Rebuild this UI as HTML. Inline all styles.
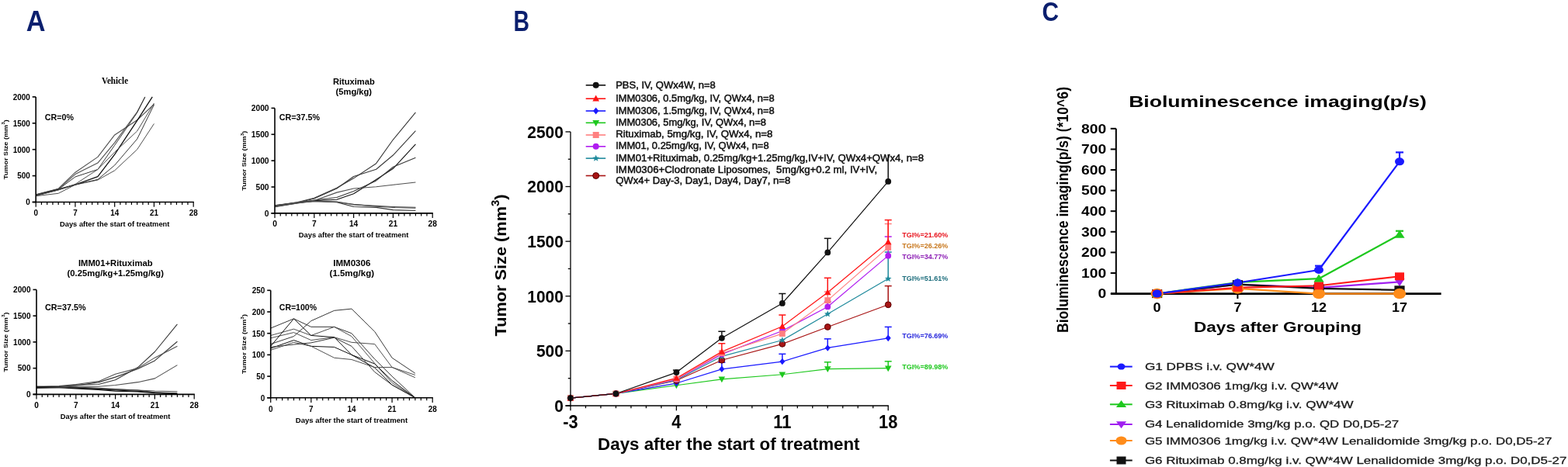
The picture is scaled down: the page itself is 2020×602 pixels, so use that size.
<!DOCTYPE html>
<html><head><meta charset="utf-8"><title>Figure</title>
<style>html,body{margin:0;padding:0;background:#fff;}svg{display:block;filter:blur(0.35px);}</style>
</head><body>
<svg width="2020" height="602" viewBox="0 0 2020 602">
<rect width="2020" height="602" fill="#fff"/>
<text x="33.8" y="40" font-size="36.8" font-weight="bold" text-anchor="start" fill="#0b1f6e" font-family="'Liberation Sans', Arial, sans-serif" textLength="24.8" lengthAdjust="spacingAndGlyphs">A</text>
<text x="661.5" y="40" font-size="36.8" font-weight="bold" text-anchor="start" fill="#0b1f6e" font-family="'Liberation Sans', Arial, sans-serif" textLength="20.5" lengthAdjust="spacingAndGlyphs">B</text>
<text x="1342.6" y="27" font-size="35.5" font-weight="bold" text-anchor="start" fill="#0b1f6e" font-family="'Liberation Sans', Arial, sans-serif" textLength="21.5" lengthAdjust="spacingAndGlyphs">C</text>
<polyline points="46.2,250.67 75.2,243.21 96.95,222.19 125.95,202.4 147.7,173.92 176.7,154.73 198.45,134.39" fill="none" stroke="#505050" stroke-width="1.1" stroke-linejoin="round"/>
<polyline points="46.2,251.35 75.2,243.89 96.95,224.57 125.95,210.06 147.7,183.82 176.7,144.22 186.85,124.9" fill="none" stroke="#505050" stroke-width="1.1" stroke-linejoin="round"/>
<polyline points="46.2,251.69 75.2,244.23 96.95,227.96 125.95,218.46 147.7,187.28 176.7,145.24 186.85,124.9" fill="none" stroke="#383838" stroke-width="1" stroke-linejoin="round"/>
<polyline points="46.2,252.03 75.2,244.57 96.95,238.13 125.95,227.62 147.7,199.14 176.7,155.41 196.27,124.9" fill="none" stroke="#111" stroke-width="1.3" stroke-linejoin="round"/>
<polyline points="46.2,252.36 75.2,244.91 96.95,237.45 125.95,218.46 147.7,196.09 176.7,168.97 198.45,133.04" fill="none" stroke="#505050" stroke-width="1" stroke-linejoin="round"/>
<polyline points="46.2,252.7 75.2,249.31 96.95,238.13 125.95,232.02 147.7,219.82 176.7,192.7 198.45,159.48" fill="none" stroke="#505050" stroke-width="1" stroke-linejoin="round"/>
<polyline points="46.2,251.01 75.2,243.55 96.95,238.13 125.95,231.35 147.7,213.04 176.7,179.14 198.45,135.07" fill="none" stroke="#383838" stroke-width="1" stroke-linejoin="round"/>
<line x1="46.2" y1="124.9" x2="46.2" y2="261.15" stroke="#000" stroke-width="1.6"/>
<line x1="41.7" y1="260.5" x2="249.85" y2="260.5" stroke="#000" stroke-width="1.6"/>
<line x1="41.7" y1="260.5" x2="46.2" y2="260.5" stroke="#000" stroke-width="1.6"/>
<text x="38.7" y="264.3" font-size="10.4" font-weight="bold" text-anchor="end" fill="#000" font-family="'Liberation Sans', Arial, sans-serif" textLength="5.5" lengthAdjust="spacingAndGlyphs">0</text>
<line x1="41.7" y1="226.6" x2="46.2" y2="226.6" stroke="#000" stroke-width="1.6"/>
<text x="38.7" y="230.4" font-size="10.4" font-weight="bold" text-anchor="end" fill="#000" font-family="'Liberation Sans', Arial, sans-serif" textLength="16.5" lengthAdjust="spacingAndGlyphs">500</text>
<line x1="41.7" y1="192.7" x2="46.2" y2="192.7" stroke="#000" stroke-width="1.6"/>
<text x="38.7" y="196.5" font-size="10.4" font-weight="bold" text-anchor="end" fill="#000" font-family="'Liberation Sans', Arial, sans-serif" textLength="22" lengthAdjust="spacingAndGlyphs">1000</text>
<line x1="41.7" y1="158.8" x2="46.2" y2="158.8" stroke="#000" stroke-width="1.6"/>
<text x="38.7" y="162.6" font-size="10.4" font-weight="bold" text-anchor="end" fill="#000" font-family="'Liberation Sans', Arial, sans-serif" textLength="22" lengthAdjust="spacingAndGlyphs">1500</text>
<line x1="41.7" y1="124.9" x2="46.2" y2="124.9" stroke="#000" stroke-width="1.6"/>
<text x="38.7" y="128.7" font-size="10.4" font-weight="bold" text-anchor="end" fill="#000" font-family="'Liberation Sans', Arial, sans-serif" textLength="22" lengthAdjust="spacingAndGlyphs">2000</text>
<line x1="46.2" y1="260.5" x2="46.2" y2="266.7" stroke="#000" stroke-width="1.2"/>
<text x="46.2" y="277.8" font-size="10.4" font-weight="bold" text-anchor="middle" fill="#000" font-family="'Liberation Sans', Arial, sans-serif" textLength="5.5" lengthAdjust="spacingAndGlyphs">0</text>
<line x1="53.45" y1="260.5" x2="53.45" y2="264" stroke="#000" stroke-width="1.2"/>
<line x1="60.7" y1="260.5" x2="60.7" y2="264" stroke="#000" stroke-width="1.2"/>
<line x1="67.95" y1="260.5" x2="67.95" y2="264" stroke="#000" stroke-width="1.2"/>
<line x1="75.2" y1="260.5" x2="75.2" y2="264" stroke="#000" stroke-width="1.2"/>
<line x1="82.45" y1="260.5" x2="82.45" y2="264" stroke="#000" stroke-width="1.2"/>
<line x1="89.7" y1="260.5" x2="89.7" y2="264" stroke="#000" stroke-width="1.2"/>
<line x1="96.95" y1="260.5" x2="96.95" y2="266.7" stroke="#000" stroke-width="1.2"/>
<text x="96.95" y="277.8" font-size="10.4" font-weight="bold" text-anchor="middle" fill="#000" font-family="'Liberation Sans', Arial, sans-serif" textLength="5.5" lengthAdjust="spacingAndGlyphs">7</text>
<line x1="104.2" y1="260.5" x2="104.2" y2="264" stroke="#000" stroke-width="1.2"/>
<line x1="111.45" y1="260.5" x2="111.45" y2="264" stroke="#000" stroke-width="1.2"/>
<line x1="118.7" y1="260.5" x2="118.7" y2="264" stroke="#000" stroke-width="1.2"/>
<line x1="125.95" y1="260.5" x2="125.95" y2="264" stroke="#000" stroke-width="1.2"/>
<line x1="133.2" y1="260.5" x2="133.2" y2="264" stroke="#000" stroke-width="1.2"/>
<line x1="140.45" y1="260.5" x2="140.45" y2="264" stroke="#000" stroke-width="1.2"/>
<line x1="147.7" y1="260.5" x2="147.7" y2="266.7" stroke="#000" stroke-width="1.2"/>
<text x="147.7" y="277.8" font-size="10.4" font-weight="bold" text-anchor="middle" fill="#000" font-family="'Liberation Sans', Arial, sans-serif" textLength="11" lengthAdjust="spacingAndGlyphs">14</text>
<line x1="154.95" y1="260.5" x2="154.95" y2="264" stroke="#000" stroke-width="1.2"/>
<line x1="162.2" y1="260.5" x2="162.2" y2="264" stroke="#000" stroke-width="1.2"/>
<line x1="169.45" y1="260.5" x2="169.45" y2="264" stroke="#000" stroke-width="1.2"/>
<line x1="176.7" y1="260.5" x2="176.7" y2="264" stroke="#000" stroke-width="1.2"/>
<line x1="183.95" y1="260.5" x2="183.95" y2="264" stroke="#000" stroke-width="1.2"/>
<line x1="191.2" y1="260.5" x2="191.2" y2="264" stroke="#000" stroke-width="1.2"/>
<line x1="198.45" y1="260.5" x2="198.45" y2="266.7" stroke="#000" stroke-width="1.2"/>
<text x="198.45" y="277.8" font-size="10.4" font-weight="bold" text-anchor="middle" fill="#000" font-family="'Liberation Sans', Arial, sans-serif" textLength="11" lengthAdjust="spacingAndGlyphs">21</text>
<line x1="205.7" y1="260.5" x2="205.7" y2="264" stroke="#000" stroke-width="1.2"/>
<line x1="212.95" y1="260.5" x2="212.95" y2="264" stroke="#000" stroke-width="1.2"/>
<line x1="220.2" y1="260.5" x2="220.2" y2="264" stroke="#000" stroke-width="1.2"/>
<line x1="227.45" y1="260.5" x2="227.45" y2="264" stroke="#000" stroke-width="1.2"/>
<line x1="234.7" y1="260.5" x2="234.7" y2="264" stroke="#000" stroke-width="1.2"/>
<line x1="241.95" y1="260.5" x2="241.95" y2="264" stroke="#000" stroke-width="1.2"/>
<line x1="249.2" y1="260.5" x2="249.2" y2="266.7" stroke="#000" stroke-width="1.2"/>
<text x="249.2" y="277.8" font-size="10.4" font-weight="bold" text-anchor="middle" fill="#000" font-family="'Liberation Sans', Arial, sans-serif" textLength="11" lengthAdjust="spacingAndGlyphs">28</text>
<text x="147.7" y="292" font-size="9.4" font-weight="bold" text-anchor="middle" fill="#000" font-family="'Liberation Sans', Arial, sans-serif" textLength="141.5" lengthAdjust="spacingAndGlyphs">Days after the start of treatment</text>
<text transform="translate(9.5,192.7) rotate(-90)" font-size="7.9" font-weight="bold" text-anchor="middle" font-family="'Liberation Sans', Arial, sans-serif" textLength="77" lengthAdjust="spacingAndGlyphs">Tumor Size (mm<tspan dy="-3.5" font-size="5.5">3</tspan><tspan dy="3.5">)</tspan></text>
<text x="57.8" y="155" font-size="10.5" font-weight="bold" text-anchor="start" fill="#000" font-family="'Liberation Sans', Arial, sans-serif" textLength="37.2" lengthAdjust="spacingAndGlyphs">CR=0%</text>
<text x="148" y="108.3" font-size="12.5" font-weight="bold" text-anchor="middle" fill="#000" font-family="'Liberation Serif', 'Times New Roman', serif" textLength="34.2" lengthAdjust="spacingAndGlyphs">Vehicle</text>
<polyline points="354,264.74 383.03,260.67 404.8,255.25 433.83,242.24 455.6,229.85 484.63,210.67 506.4,180.05 535.42,144.82" fill="none" stroke="#383838" stroke-width="1.1" stroke-linejoin="round"/>
<polyline points="354,265.41 383.03,261.35 404.8,255.93 433.83,243.06 455.6,227.47 484.63,218.26 506.4,200.04 535.42,168.53" fill="none" stroke="#383838" stroke-width="1.1" stroke-linejoin="round"/>
<polyline points="354,266.09 383.03,261.35 404.8,258.64 433.83,257.28 455.6,249.83 484.63,231.54 506.4,217.31 535.42,185.81" fill="none" stroke="#111" stroke-width="1.1" stroke-linejoin="round"/>
<polyline points="354,266.77 383.03,262.03 404.8,257.96 433.83,254.57 455.6,246.44 484.63,232.89 506.4,215.28 535.42,203.29" fill="none" stroke="#383838" stroke-width="1.1" stroke-linejoin="round"/>
<polyline points="354,265.41 383.03,260.67 404.8,258.64 433.83,248.14 455.6,243.06 484.63,240.69 506.4,238.31 535.42,234.93" fill="none" stroke="#505050" stroke-width="1.1" stroke-linejoin="round"/>
<polyline points="354,264.74 383.03,261.35 404.8,259.32 433.83,260.6 455.6,266.43 484.63,267.38 506.4,270.63 535.42,271.51" fill="none" stroke="#383838" stroke-width="1.1" stroke-linejoin="round"/>
<polyline points="354,266.09 383.03,262.03 404.8,259.32 433.83,260 455.6,263.92 484.63,265.41 506.4,266.43 535.42,267.24" fill="none" stroke="#505050" stroke-width="1.1" stroke-linejoin="round"/>
<polyline points="354,265.41 383.03,261.35 404.8,259.66 433.83,260.33 455.6,263.38 484.63,266.09 506.4,267.45 535.42,268.12" fill="none" stroke="#505050" stroke-width="1.1" stroke-linejoin="round"/>
<line x1="354" y1="139.4" x2="354" y2="275.55" stroke="#000" stroke-width="1.6"/>
<line x1="349.5" y1="274.9" x2="557.85" y2="274.9" stroke="#000" stroke-width="1.6"/>
<line x1="349.5" y1="274.9" x2="354" y2="274.9" stroke="#000" stroke-width="1.6"/>
<text x="346.5" y="278.7" font-size="10.4" font-weight="bold" text-anchor="end" fill="#000" font-family="'Liberation Sans', Arial, sans-serif" textLength="5.67" lengthAdjust="spacingAndGlyphs">0</text>
<line x1="349.5" y1="241.02" x2="354" y2="241.02" stroke="#000" stroke-width="1.6"/>
<text x="346.5" y="244.82" font-size="10.4" font-weight="bold" text-anchor="end" fill="#000" font-family="'Liberation Sans', Arial, sans-serif" textLength="17.02" lengthAdjust="spacingAndGlyphs">500</text>
<line x1="349.5" y1="207.15" x2="354" y2="207.15" stroke="#000" stroke-width="1.6"/>
<text x="346.5" y="210.95" font-size="10.4" font-weight="bold" text-anchor="end" fill="#000" font-family="'Liberation Sans', Arial, sans-serif" textLength="22.7" lengthAdjust="spacingAndGlyphs">1000</text>
<line x1="349.5" y1="173.27" x2="354" y2="173.27" stroke="#000" stroke-width="1.6"/>
<text x="346.5" y="177.07" font-size="10.4" font-weight="bold" text-anchor="end" fill="#000" font-family="'Liberation Sans', Arial, sans-serif" textLength="22.7" lengthAdjust="spacingAndGlyphs">1500</text>
<line x1="349.5" y1="139.4" x2="354" y2="139.4" stroke="#000" stroke-width="1.6"/>
<text x="346.5" y="143.2" font-size="10.4" font-weight="bold" text-anchor="end" fill="#000" font-family="'Liberation Sans', Arial, sans-serif" textLength="22.7" lengthAdjust="spacingAndGlyphs">2000</text>
<line x1="354" y1="274.9" x2="354" y2="281.1" stroke="#000" stroke-width="1.2"/>
<text x="354" y="292.1" font-size="10.4" font-weight="bold" text-anchor="middle" fill="#000" font-family="'Liberation Sans', Arial, sans-serif" textLength="5.67" lengthAdjust="spacingAndGlyphs">0</text>
<line x1="361.26" y1="274.9" x2="361.26" y2="278.4" stroke="#000" stroke-width="1.2"/>
<line x1="368.51" y1="274.9" x2="368.51" y2="278.4" stroke="#000" stroke-width="1.2"/>
<line x1="375.77" y1="274.9" x2="375.77" y2="278.4" stroke="#000" stroke-width="1.2"/>
<line x1="383.03" y1="274.9" x2="383.03" y2="278.4" stroke="#000" stroke-width="1.2"/>
<line x1="390.28" y1="274.9" x2="390.28" y2="278.4" stroke="#000" stroke-width="1.2"/>
<line x1="397.54" y1="274.9" x2="397.54" y2="278.4" stroke="#000" stroke-width="1.2"/>
<line x1="404.8" y1="274.9" x2="404.8" y2="281.1" stroke="#000" stroke-width="1.2"/>
<text x="404.8" y="292.1" font-size="10.4" font-weight="bold" text-anchor="middle" fill="#000" font-family="'Liberation Sans', Arial, sans-serif" textLength="5.67" lengthAdjust="spacingAndGlyphs">7</text>
<line x1="412.06" y1="274.9" x2="412.06" y2="278.4" stroke="#000" stroke-width="1.2"/>
<line x1="419.31" y1="274.9" x2="419.31" y2="278.4" stroke="#000" stroke-width="1.2"/>
<line x1="426.57" y1="274.9" x2="426.57" y2="278.4" stroke="#000" stroke-width="1.2"/>
<line x1="433.83" y1="274.9" x2="433.83" y2="278.4" stroke="#000" stroke-width="1.2"/>
<line x1="441.08" y1="274.9" x2="441.08" y2="278.4" stroke="#000" stroke-width="1.2"/>
<line x1="448.34" y1="274.9" x2="448.34" y2="278.4" stroke="#000" stroke-width="1.2"/>
<line x1="455.6" y1="274.9" x2="455.6" y2="281.1" stroke="#000" stroke-width="1.2"/>
<text x="455.6" y="292.1" font-size="10.4" font-weight="bold" text-anchor="middle" fill="#000" font-family="'Liberation Sans', Arial, sans-serif" textLength="11.35" lengthAdjust="spacingAndGlyphs">14</text>
<line x1="462.86" y1="274.9" x2="462.86" y2="278.4" stroke="#000" stroke-width="1.2"/>
<line x1="470.11" y1="274.9" x2="470.11" y2="278.4" stroke="#000" stroke-width="1.2"/>
<line x1="477.37" y1="274.9" x2="477.37" y2="278.4" stroke="#000" stroke-width="1.2"/>
<line x1="484.63" y1="274.9" x2="484.63" y2="278.4" stroke="#000" stroke-width="1.2"/>
<line x1="491.88" y1="274.9" x2="491.88" y2="278.4" stroke="#000" stroke-width="1.2"/>
<line x1="499.14" y1="274.9" x2="499.14" y2="278.4" stroke="#000" stroke-width="1.2"/>
<line x1="506.4" y1="274.9" x2="506.4" y2="281.1" stroke="#000" stroke-width="1.2"/>
<text x="506.4" y="292.1" font-size="10.4" font-weight="bold" text-anchor="middle" fill="#000" font-family="'Liberation Sans', Arial, sans-serif" textLength="11.35" lengthAdjust="spacingAndGlyphs">21</text>
<line x1="513.65" y1="274.9" x2="513.65" y2="278.4" stroke="#000" stroke-width="1.2"/>
<line x1="520.91" y1="274.9" x2="520.91" y2="278.4" stroke="#000" stroke-width="1.2"/>
<line x1="528.17" y1="274.9" x2="528.17" y2="278.4" stroke="#000" stroke-width="1.2"/>
<line x1="535.42" y1="274.9" x2="535.42" y2="278.4" stroke="#000" stroke-width="1.2"/>
<line x1="542.68" y1="274.9" x2="542.68" y2="278.4" stroke="#000" stroke-width="1.2"/>
<line x1="549.94" y1="274.9" x2="549.94" y2="278.4" stroke="#000" stroke-width="1.2"/>
<line x1="557.2" y1="274.9" x2="557.2" y2="281.1" stroke="#000" stroke-width="1.2"/>
<text x="557.2" y="292.1" font-size="10.4" font-weight="bold" text-anchor="middle" fill="#000" font-family="'Liberation Sans', Arial, sans-serif" textLength="11.35" lengthAdjust="spacingAndGlyphs">28</text>
<text x="455.6" y="306.4" font-size="9.4" font-weight="bold" text-anchor="middle" fill="#000" font-family="'Liberation Sans', Arial, sans-serif" textLength="141.5" lengthAdjust="spacingAndGlyphs">Days after the start of treatment</text>
<text transform="translate(317,207.15) rotate(-90)" font-size="7.9" font-weight="bold" text-anchor="middle" font-family="'Liberation Sans', Arial, sans-serif" textLength="77" lengthAdjust="spacingAndGlyphs">Tumor Size (mm<tspan dy="-3.5" font-size="5.5">3</tspan><tspan dy="3.5">)</tspan></text>
<text x="359.8" y="154.8" font-size="10.5" font-weight="bold" text-anchor="start" fill="#000" font-family="'Liberation Sans', Arial, sans-serif" textLength="52.2" lengthAdjust="spacingAndGlyphs">CR=37.5%</text>
<text x="455.8" y="109.3" font-size="11" font-weight="bold" text-anchor="middle" fill="#000" font-family="'Liberation Sans', Arial, sans-serif" textLength="53.8" lengthAdjust="spacingAndGlyphs">Rituximab</text>
<text x="455.8" y="122.3" font-size="11" font-weight="bold" text-anchor="middle" fill="#000" font-family="'Liberation Sans', Arial, sans-serif" textLength="46.4" lengthAdjust="spacingAndGlyphs">(5mg/kg)</text>
<polyline points="47,499.62 76.03,498.27 97.8,496.25 126.83,495.57 148.6,489.77 177.63,473.57 199.4,453.52 228.42,417.95" fill="none" stroke="#383838" stroke-width="1.1" stroke-linejoin="round"/>
<polyline points="47,498.95 76.03,498.27 97.8,496.92 126.83,492.88 148.6,486.12 177.63,475.46 199.4,464.93 228.42,440.22" fill="none" stroke="#383838" stroke-width="1.1" stroke-linejoin="round"/>
<polyline points="47,498.27 76.03,497.6 97.8,495.57 126.83,491.66 148.6,482.21 177.63,474.65 199.4,461.15 228.42,446.3" fill="none" stroke="#505050" stroke-width="1.1" stroke-linejoin="round"/>
<polyline points="47,500.3 76.03,498.95 97.8,498.27 126.83,498.27 148.6,496.45 177.63,492.67 199.4,487.88 228.42,470.6" fill="none" stroke="#505050" stroke-width="1.1" stroke-linejoin="round"/>
<polyline points="47,498.95 76.03,498.95 97.8,499.62 126.83,500.97 148.6,501.99 177.63,503 199.4,504.01 228.42,504.69" fill="none" stroke="#505050" stroke-width="1.1" stroke-linejoin="round"/>
<polyline points="47,499.62 76.03,499.62 97.8,500.97 126.83,502.32 148.6,504.08 177.63,505.02 199.4,506.71 228.42,507.72" fill="none" stroke="#111" stroke-width="1.2" stroke-linejoin="round"/>
<polyline points="47,498.27 76.03,498.95 97.8,500.3 126.83,501.65 148.6,503 177.63,504.35 199.4,505.7 228.42,508.4" fill="none" stroke="#111" stroke-width="1.1" stroke-linejoin="round"/>
<polyline points="47,500.3 76.03,499.62 97.8,498.95 126.83,500.3 148.6,501.65 177.63,503 199.4,505.7 228.42,506.71" fill="none" stroke="#383838" stroke-width="1.1" stroke-linejoin="round"/>
<line x1="47" y1="373.4" x2="47" y2="509.05" stroke="#000" stroke-width="1.6"/>
<line x1="42.5" y1="508.4" x2="250.85" y2="508.4" stroke="#000" stroke-width="1.6"/>
<line x1="42.5" y1="508.4" x2="47" y2="508.4" stroke="#000" stroke-width="1.6"/>
<text x="39.5" y="512.2" font-size="10.4" font-weight="bold" text-anchor="end" fill="#000" font-family="'Liberation Sans', Arial, sans-serif" textLength="5.6" lengthAdjust="spacingAndGlyphs">0</text>
<line x1="42.5" y1="474.65" x2="47" y2="474.65" stroke="#000" stroke-width="1.6"/>
<text x="39.5" y="478.45" font-size="10.4" font-weight="bold" text-anchor="end" fill="#000" font-family="'Liberation Sans', Arial, sans-serif" textLength="16.8" lengthAdjust="spacingAndGlyphs">500</text>
<line x1="42.5" y1="440.9" x2="47" y2="440.9" stroke="#000" stroke-width="1.6"/>
<text x="39.5" y="444.7" font-size="10.4" font-weight="bold" text-anchor="end" fill="#000" font-family="'Liberation Sans', Arial, sans-serif" textLength="22.4" lengthAdjust="spacingAndGlyphs">1000</text>
<line x1="42.5" y1="407.15" x2="47" y2="407.15" stroke="#000" stroke-width="1.6"/>
<text x="39.5" y="410.95" font-size="10.4" font-weight="bold" text-anchor="end" fill="#000" font-family="'Liberation Sans', Arial, sans-serif" textLength="22.4" lengthAdjust="spacingAndGlyphs">1500</text>
<line x1="42.5" y1="373.4" x2="47" y2="373.4" stroke="#000" stroke-width="1.6"/>
<text x="39.5" y="377.2" font-size="10.4" font-weight="bold" text-anchor="end" fill="#000" font-family="'Liberation Sans', Arial, sans-serif" textLength="22.4" lengthAdjust="spacingAndGlyphs">2000</text>
<line x1="47" y1="508.4" x2="47" y2="514.6" stroke="#000" stroke-width="1.2"/>
<text x="47" y="525.6" font-size="10.4" font-weight="bold" text-anchor="middle" fill="#000" font-family="'Liberation Sans', Arial, sans-serif" textLength="5.6" lengthAdjust="spacingAndGlyphs">0</text>
<line x1="54.26" y1="508.4" x2="54.26" y2="511.9" stroke="#000" stroke-width="1.2"/>
<line x1="61.51" y1="508.4" x2="61.51" y2="511.9" stroke="#000" stroke-width="1.2"/>
<line x1="68.77" y1="508.4" x2="68.77" y2="511.9" stroke="#000" stroke-width="1.2"/>
<line x1="76.03" y1="508.4" x2="76.03" y2="511.9" stroke="#000" stroke-width="1.2"/>
<line x1="83.28" y1="508.4" x2="83.28" y2="511.9" stroke="#000" stroke-width="1.2"/>
<line x1="90.54" y1="508.4" x2="90.54" y2="511.9" stroke="#000" stroke-width="1.2"/>
<line x1="97.8" y1="508.4" x2="97.8" y2="514.6" stroke="#000" stroke-width="1.2"/>
<text x="97.8" y="525.6" font-size="10.4" font-weight="bold" text-anchor="middle" fill="#000" font-family="'Liberation Sans', Arial, sans-serif" textLength="5.6" lengthAdjust="spacingAndGlyphs">7</text>
<line x1="105.06" y1="508.4" x2="105.06" y2="511.9" stroke="#000" stroke-width="1.2"/>
<line x1="112.31" y1="508.4" x2="112.31" y2="511.9" stroke="#000" stroke-width="1.2"/>
<line x1="119.57" y1="508.4" x2="119.57" y2="511.9" stroke="#000" stroke-width="1.2"/>
<line x1="126.83" y1="508.4" x2="126.83" y2="511.9" stroke="#000" stroke-width="1.2"/>
<line x1="134.08" y1="508.4" x2="134.08" y2="511.9" stroke="#000" stroke-width="1.2"/>
<line x1="141.34" y1="508.4" x2="141.34" y2="511.9" stroke="#000" stroke-width="1.2"/>
<line x1="148.6" y1="508.4" x2="148.6" y2="514.6" stroke="#000" stroke-width="1.2"/>
<text x="148.6" y="525.6" font-size="10.4" font-weight="bold" text-anchor="middle" fill="#000" font-family="'Liberation Sans', Arial, sans-serif" textLength="11.2" lengthAdjust="spacingAndGlyphs">14</text>
<line x1="155.85" y1="508.4" x2="155.85" y2="511.9" stroke="#000" stroke-width="1.2"/>
<line x1="163.11" y1="508.4" x2="163.11" y2="511.9" stroke="#000" stroke-width="1.2"/>
<line x1="170.37" y1="508.4" x2="170.37" y2="511.9" stroke="#000" stroke-width="1.2"/>
<line x1="177.63" y1="508.4" x2="177.63" y2="511.9" stroke="#000" stroke-width="1.2"/>
<line x1="184.88" y1="508.4" x2="184.88" y2="511.9" stroke="#000" stroke-width="1.2"/>
<line x1="192.14" y1="508.4" x2="192.14" y2="511.9" stroke="#000" stroke-width="1.2"/>
<line x1="199.4" y1="508.4" x2="199.4" y2="514.6" stroke="#000" stroke-width="1.2"/>
<text x="199.4" y="525.6" font-size="10.4" font-weight="bold" text-anchor="middle" fill="#000" font-family="'Liberation Sans', Arial, sans-serif" textLength="11.2" lengthAdjust="spacingAndGlyphs">21</text>
<line x1="206.65" y1="508.4" x2="206.65" y2="511.9" stroke="#000" stroke-width="1.2"/>
<line x1="213.91" y1="508.4" x2="213.91" y2="511.9" stroke="#000" stroke-width="1.2"/>
<line x1="221.17" y1="508.4" x2="221.17" y2="511.9" stroke="#000" stroke-width="1.2"/>
<line x1="228.42" y1="508.4" x2="228.42" y2="511.9" stroke="#000" stroke-width="1.2"/>
<line x1="235.68" y1="508.4" x2="235.68" y2="511.9" stroke="#000" stroke-width="1.2"/>
<line x1="242.94" y1="508.4" x2="242.94" y2="511.9" stroke="#000" stroke-width="1.2"/>
<line x1="250.2" y1="508.4" x2="250.2" y2="514.6" stroke="#000" stroke-width="1.2"/>
<text x="250.2" y="525.6" font-size="10.4" font-weight="bold" text-anchor="middle" fill="#000" font-family="'Liberation Sans', Arial, sans-serif" textLength="11.2" lengthAdjust="spacingAndGlyphs">28</text>
<text x="148.6" y="539.9" font-size="9.4" font-weight="bold" text-anchor="middle" fill="#000" font-family="'Liberation Sans', Arial, sans-serif" textLength="141.5" lengthAdjust="spacingAndGlyphs">Days after the start of treatment</text>
<text transform="translate(9.8,440.9) rotate(-90)" font-size="7.9" font-weight="bold" text-anchor="middle" font-family="'Liberation Sans', Arial, sans-serif" textLength="77" lengthAdjust="spacingAndGlyphs">Tumor Size (mm<tspan dy="-3.5" font-size="5.5">3</tspan><tspan dy="3.5">)</tspan></text>
<text x="58" y="400" font-size="10.5" font-weight="bold" text-anchor="start" fill="#000" font-family="'Liberation Sans', Arial, sans-serif" textLength="52.6" lengthAdjust="spacingAndGlyphs">CR=37.5%</text>
<text x="148.8" y="342.6" font-size="11" font-weight="bold" text-anchor="middle" fill="#000" font-family="'Liberation Sans', Arial, sans-serif" textLength="95.8" lengthAdjust="spacingAndGlyphs">IMM01+Rituximab</text>
<text x="148.8" y="355.6" font-size="11" font-weight="bold" text-anchor="middle" fill="#000" font-family="'Liberation Sans', Arial, sans-serif" textLength="124.4" lengthAdjust="spacingAndGlyphs">(0.25mg/kg+1.25mg/kg)</text>
<polyline points="348.7,423.05 378.48,410.86 400.82,421.39 430.61,421.39 452.94,429.7 482.73,462.94 505.07,485.1 534.85,512.8" fill="none" stroke="#383838" stroke-width="1" stroke-linejoin="round"/>
<polyline points="348.7,432.47 378.48,424.16 400.82,432.47 430.61,421.39 452.94,433.58 482.73,468.48 505.07,493.41 534.85,512.8" fill="none" stroke="#505050" stroke-width="1" stroke-linejoin="round"/>
<polyline points="348.7,443.55 378.48,433.58 400.82,413.63 430.61,400.34 452.94,398.12 482.73,427.48 505.07,461.28 534.85,481.22" fill="none" stroke="#383838" stroke-width="1" stroke-linejoin="round"/>
<polyline points="348.7,435.79 378.48,428.59 400.82,438.56 430.61,434.69 452.94,441.33 482.73,443.55 505.07,473.47 534.85,483.44" fill="none" stroke="#505050" stroke-width="1" stroke-linejoin="round"/>
<polyline points="348.7,446.32 378.48,410.86 400.82,432.47 430.61,434.69 452.94,457.4 482.73,469.03 505.07,490.64 534.85,512.8" fill="none" stroke="#111" stroke-width="1" stroke-linejoin="round"/>
<polyline points="348.7,449.09 378.48,438.56 400.82,446.32 430.61,447.43 452.94,457.4 482.73,474.02 505.07,496.18 534.85,512.8" fill="none" stroke="#111" stroke-width="1" stroke-linejoin="round"/>
<polyline points="348.7,451.31 378.48,441.33 400.82,446.32 430.61,461.28 452.94,463.49 482.73,473.47 505.07,473.47 534.85,486.76" fill="none" stroke="#505050" stroke-width="1" stroke-linejoin="round"/>
<polyline points="348.7,447.43 378.48,444.1 400.82,441.89 430.61,435.24 452.94,446.32 482.73,479.56 505.07,496.18 534.85,512.8" fill="none" stroke="#383838" stroke-width="1" stroke-linejoin="round"/>
<line x1="348.7" y1="374.3" x2="348.7" y2="513.45" stroke="#000" stroke-width="1.6"/>
<line x1="344.2" y1="512.8" x2="557.84" y2="512.8" stroke="#000" stroke-width="1.6"/>
<line x1="344.2" y1="512.8" x2="348.7" y2="512.8" stroke="#000" stroke-width="1.6"/>
<text x="341.2" y="516.6" font-size="10.4" font-weight="bold" text-anchor="end" fill="#000" font-family="'Liberation Sans', Arial, sans-serif" textLength="5.5" lengthAdjust="spacingAndGlyphs">0</text>
<line x1="344.2" y1="485.1" x2="348.7" y2="485.1" stroke="#000" stroke-width="1.6"/>
<text x="341.2" y="488.9" font-size="10.4" font-weight="bold" text-anchor="end" fill="#000" font-family="'Liberation Sans', Arial, sans-serif" textLength="11" lengthAdjust="spacingAndGlyphs">50</text>
<line x1="344.2" y1="457.4" x2="348.7" y2="457.4" stroke="#000" stroke-width="1.6"/>
<text x="341.2" y="461.2" font-size="10.4" font-weight="bold" text-anchor="end" fill="#000" font-family="'Liberation Sans', Arial, sans-serif" textLength="16.5" lengthAdjust="spacingAndGlyphs">100</text>
<line x1="344.2" y1="429.7" x2="348.7" y2="429.7" stroke="#000" stroke-width="1.6"/>
<text x="341.2" y="433.5" font-size="10.4" font-weight="bold" text-anchor="end" fill="#000" font-family="'Liberation Sans', Arial, sans-serif" textLength="16.5" lengthAdjust="spacingAndGlyphs">150</text>
<line x1="344.2" y1="402" x2="348.7" y2="402" stroke="#000" stroke-width="1.6"/>
<text x="341.2" y="405.8" font-size="10.4" font-weight="bold" text-anchor="end" fill="#000" font-family="'Liberation Sans', Arial, sans-serif" textLength="16.5" lengthAdjust="spacingAndGlyphs">200</text>
<line x1="344.2" y1="374.3" x2="348.7" y2="374.3" stroke="#000" stroke-width="1.6"/>
<text x="341.2" y="378.1" font-size="10.4" font-weight="bold" text-anchor="end" fill="#000" font-family="'Liberation Sans', Arial, sans-serif" textLength="16.5" lengthAdjust="spacingAndGlyphs">250</text>
<line x1="348.7" y1="512.8" x2="348.7" y2="519" stroke="#000" stroke-width="1.2"/>
<text x="348.7" y="530.6" font-size="10.4" font-weight="bold" text-anchor="middle" fill="#000" font-family="'Liberation Sans', Arial, sans-serif" textLength="5.5" lengthAdjust="spacingAndGlyphs">0</text>
<line x1="356.15" y1="512.8" x2="356.15" y2="516.3" stroke="#000" stroke-width="1.2"/>
<line x1="363.59" y1="512.8" x2="363.59" y2="516.3" stroke="#000" stroke-width="1.2"/>
<line x1="371.04" y1="512.8" x2="371.04" y2="516.3" stroke="#000" stroke-width="1.2"/>
<line x1="378.48" y1="512.8" x2="378.48" y2="516.3" stroke="#000" stroke-width="1.2"/>
<line x1="385.93" y1="512.8" x2="385.93" y2="516.3" stroke="#000" stroke-width="1.2"/>
<line x1="393.38" y1="512.8" x2="393.38" y2="516.3" stroke="#000" stroke-width="1.2"/>
<line x1="400.82" y1="512.8" x2="400.82" y2="519" stroke="#000" stroke-width="1.2"/>
<text x="400.82" y="530.6" font-size="10.4" font-weight="bold" text-anchor="middle" fill="#000" font-family="'Liberation Sans', Arial, sans-serif" textLength="5.5" lengthAdjust="spacingAndGlyphs">7</text>
<line x1="408.27" y1="512.8" x2="408.27" y2="516.3" stroke="#000" stroke-width="1.2"/>
<line x1="415.71" y1="512.8" x2="415.71" y2="516.3" stroke="#000" stroke-width="1.2"/>
<line x1="423.16" y1="512.8" x2="423.16" y2="516.3" stroke="#000" stroke-width="1.2"/>
<line x1="430.61" y1="512.8" x2="430.61" y2="516.3" stroke="#000" stroke-width="1.2"/>
<line x1="438.05" y1="512.8" x2="438.05" y2="516.3" stroke="#000" stroke-width="1.2"/>
<line x1="445.5" y1="512.8" x2="445.5" y2="516.3" stroke="#000" stroke-width="1.2"/>
<line x1="452.94" y1="512.8" x2="452.94" y2="519" stroke="#000" stroke-width="1.2"/>
<text x="452.94" y="530.6" font-size="10.4" font-weight="bold" text-anchor="middle" fill="#000" font-family="'Liberation Sans', Arial, sans-serif" textLength="11" lengthAdjust="spacingAndGlyphs">14</text>
<line x1="460.39" y1="512.8" x2="460.39" y2="516.3" stroke="#000" stroke-width="1.2"/>
<line x1="467.84" y1="512.8" x2="467.84" y2="516.3" stroke="#000" stroke-width="1.2"/>
<line x1="475.28" y1="512.8" x2="475.28" y2="516.3" stroke="#000" stroke-width="1.2"/>
<line x1="482.73" y1="512.8" x2="482.73" y2="516.3" stroke="#000" stroke-width="1.2"/>
<line x1="490.17" y1="512.8" x2="490.17" y2="516.3" stroke="#000" stroke-width="1.2"/>
<line x1="497.62" y1="512.8" x2="497.62" y2="516.3" stroke="#000" stroke-width="1.2"/>
<line x1="505.07" y1="512.8" x2="505.07" y2="519" stroke="#000" stroke-width="1.2"/>
<text x="505.07" y="530.6" font-size="10.4" font-weight="bold" text-anchor="middle" fill="#000" font-family="'Liberation Sans', Arial, sans-serif" textLength="11" lengthAdjust="spacingAndGlyphs">21</text>
<line x1="512.51" y1="512.8" x2="512.51" y2="516.3" stroke="#000" stroke-width="1.2"/>
<line x1="519.96" y1="512.8" x2="519.96" y2="516.3" stroke="#000" stroke-width="1.2"/>
<line x1="527.4" y1="512.8" x2="527.4" y2="516.3" stroke="#000" stroke-width="1.2"/>
<line x1="534.85" y1="512.8" x2="534.85" y2="516.3" stroke="#000" stroke-width="1.2"/>
<line x1="542.3" y1="512.8" x2="542.3" y2="516.3" stroke="#000" stroke-width="1.2"/>
<line x1="549.74" y1="512.8" x2="549.74" y2="516.3" stroke="#000" stroke-width="1.2"/>
<line x1="557.19" y1="512.8" x2="557.19" y2="519" stroke="#000" stroke-width="1.2"/>
<text x="557.19" y="530.6" font-size="10.4" font-weight="bold" text-anchor="middle" fill="#000" font-family="'Liberation Sans', Arial, sans-serif" textLength="11" lengthAdjust="spacingAndGlyphs">28</text>
<text x="452.94" y="545.3" font-size="9.4" font-weight="bold" text-anchor="middle" fill="#000" font-family="'Liberation Sans', Arial, sans-serif" textLength="144.4" lengthAdjust="spacingAndGlyphs">Days after the start of treatment</text>
<text transform="translate(317,443.55) rotate(-90)" font-size="7.9" font-weight="bold" text-anchor="middle" font-family="'Liberation Sans', Arial, sans-serif" textLength="77" lengthAdjust="spacingAndGlyphs">Tumor Size (mm<tspan dy="-3.5" font-size="5.5">3</tspan><tspan dy="3.5">)</tspan></text>
<text x="359.8" y="399.6" font-size="10.5" font-weight="bold" text-anchor="start" fill="#000" font-family="'Liberation Sans', Arial, sans-serif" textLength="48.2" lengthAdjust="spacingAndGlyphs">CR=100%</text>
<text x="453.3" y="342.9" font-size="11" font-weight="bold" text-anchor="middle" fill="#000" font-family="'Liberation Sans', Arial, sans-serif" textLength="48.1" lengthAdjust="spacingAndGlyphs">IMM0306</text>
<text x="453.3" y="356.3" font-size="11" font-weight="bold" text-anchor="middle" fill="#000" font-family="'Liberation Sans', Arial, sans-serif" textLength="57.5" lengthAdjust="spacingAndGlyphs">(1.5mg/kg)</text>
<polyline points="735,513.11 793.46,507.46 871.4,496.73 929.86,488.82 1007.8,482.75 1066.26,475.54 1144.21,474.7" fill="none" stroke="#1ec81e" stroke-width="1.2" stroke-linejoin="round"/>
<polyline points="735,513.11 793.46,507.46 871.4,494.05 929.86,475.83 1007.8,466.08 1066.26,448.43 1144.21,435.85" fill="none" stroke="#1a1aff" stroke-width="1.2" stroke-linejoin="round"/>
<polyline points="735,513.11 793.46,507.46 871.4,490.51 929.86,464.24 1007.8,443.34 1066.26,421.45 1144.21,392.78" fill="none" stroke="#a81414" stroke-width="1.2" stroke-linejoin="round"/>
<polyline points="735,513.11 793.46,507.46 871.4,489.81 929.86,459.44 1007.8,438.54 1066.26,404.78 1144.21,359.3" fill="none" stroke="#1f8a9c" stroke-width="1.2" stroke-linejoin="round"/>
<polyline points="735,513.11 793.46,507.46 871.4,489.1 929.86,456.62 1007.8,426.53 1066.26,395.46 1144.21,329.64" fill="none" stroke="#b01cf0" stroke-width="1.2" stroke-linejoin="round"/>
<polyline points="735,513.11 793.46,507.46 871.4,488.4 929.86,455.2 1007.8,430.06 1066.26,387.13 1144.21,318.91" fill="none" stroke="#ff8080" stroke-width="1.2" stroke-linejoin="round"/>
<polyline points="735,513.11 793.46,507.46 871.4,487.41 929.86,453.37 1007.8,420.74 1066.26,376.96 1144.21,311.99" fill="none" stroke="#ff1414" stroke-width="1.2" stroke-linejoin="round"/>
<polyline points="735,513.11 793.46,507.46 871.4,480.06 929.86,435.85 1007.8,390.94 1066.26,325.41 1144.21,233.88" fill="none" stroke="#111111" stroke-width="1.2" stroke-linejoin="round"/>
<line x1="1066.26" y1="475.54" x2="1066.26" y2="466.79" stroke="#1ec81e" stroke-width="1.5"/>
<line x1="1061.76" y1="466.79" x2="1070.76" y2="466.79" stroke="#1ec81e" stroke-width="1.5"/>
<line x1="1144.21" y1="474.7" x2="1144.21" y2="465.8" stroke="#1ec81e" stroke-width="1.5"/>
<line x1="1139.71" y1="465.8" x2="1148.71" y2="465.8" stroke="#1ec81e" stroke-width="1.5"/>
<polygon points="735,517.6 739.29,509.8 730.71,509.8" fill="#1ec81e"/>
<polygon points="793.46,511.95 797.75,504.15 789.17,504.15" fill="#1ec81e"/>
<polygon points="871.4,501.21 875.69,493.41 867.11,493.41" fill="#1ec81e"/>
<polygon points="929.86,493.3 934.15,485.5 925.57,485.5" fill="#1ec81e"/>
<polygon points="1007.8,487.23 1012.09,479.43 1003.51,479.43" fill="#1ec81e"/>
<polygon points="1066.26,480.03 1070.55,472.23 1061.97,472.23" fill="#1ec81e"/>
<polygon points="1144.21,479.18 1148.5,471.38 1139.92,471.38" fill="#1ec81e"/>
<line x1="929.86" y1="475.83" x2="929.86" y2="467.21" stroke="#1a1aff" stroke-width="1.5"/>
<line x1="925.36" y1="467.21" x2="934.36" y2="467.21" stroke="#1a1aff" stroke-width="1.5"/>
<line x1="1007.8" y1="466.08" x2="1007.8" y2="456.33" stroke="#1a1aff" stroke-width="1.5"/>
<line x1="1003.3" y1="456.33" x2="1012.3" y2="456.33" stroke="#1a1aff" stroke-width="1.5"/>
<line x1="1066.26" y1="448.43" x2="1066.26" y2="436.84" stroke="#1a1aff" stroke-width="1.5"/>
<line x1="1061.76" y1="436.84" x2="1070.76" y2="436.84" stroke="#1a1aff" stroke-width="1.5"/>
<line x1="1144.21" y1="435.85" x2="1144.21" y2="421.45" stroke="#1a1aff" stroke-width="1.5"/>
<line x1="1139.71" y1="421.45" x2="1148.71" y2="421.45" stroke="#1a1aff" stroke-width="1.5"/>
<polygon points="735,508.82 738.51,513.11 735,517.4 731.49,513.11" fill="#1a1aff"/>
<polygon points="793.46,503.17 796.97,507.46 793.46,511.75 789.95,507.46" fill="#1a1aff"/>
<polygon points="871.4,489.76 874.91,494.05 871.4,498.34 867.89,494.05" fill="#1a1aff"/>
<polygon points="929.86,471.54 933.37,475.83 929.86,480.12 926.35,475.83" fill="#1a1aff"/>
<polygon points="1007.8,461.79 1011.31,466.08 1007.8,470.37 1004.29,466.08" fill="#1a1aff"/>
<polygon points="1066.26,444.14 1069.77,448.43 1066.26,452.72 1062.75,448.43" fill="#1a1aff"/>
<polygon points="1144.21,431.56 1147.72,435.85 1144.21,440.14 1140.7,435.85" fill="#1a1aff"/>
<line x1="1144.21" y1="392.78" x2="1144.21" y2="368.62" stroke="#a81414" stroke-width="1.5"/>
<line x1="1139.71" y1="368.62" x2="1148.71" y2="368.62" stroke="#a81414" stroke-width="1.5"/>
<ellipse cx="735" cy="513.11" rx="3.9" ry="3.9" fill="#a81414" stroke="#5a0000" stroke-width="1"/>
<ellipse cx="793.46" cy="507.46" rx="3.9" ry="3.9" fill="#a81414" stroke="#5a0000" stroke-width="1"/>
<ellipse cx="871.4" cy="490.51" rx="3.9" ry="3.9" fill="#a81414" stroke="#5a0000" stroke-width="1"/>
<ellipse cx="929.86" cy="464.24" rx="3.9" ry="3.9" fill="#a81414" stroke="#5a0000" stroke-width="1"/>
<ellipse cx="1007.8" cy="443.34" rx="3.9" ry="3.9" fill="#a81414" stroke="#5a0000" stroke-width="1"/>
<ellipse cx="1066.26" cy="421.45" rx="3.9" ry="3.9" fill="#a81414" stroke="#5a0000" stroke-width="1"/>
<ellipse cx="1144.21" cy="392.78" rx="3.9" ry="3.9" fill="#a81414" stroke="#5a0000" stroke-width="1"/>
<line x1="1144.21" y1="359.3" x2="1144.21" y2="324.98" stroke="#1f8a9c" stroke-width="1.5"/>
<line x1="1139.71" y1="324.98" x2="1148.71" y2="324.98" stroke="#1f8a9c" stroke-width="1.5"/>
<polygon points="735,508.63 736.15,511.54 739.27,511.73 736.85,513.72 737.64,516.74 735,515.06 732.36,516.74 733.15,513.72 730.73,511.73 733.85,511.54" fill="#1f8a9c"/>
<polygon points="793.46,502.98 794.6,505.89 797.72,506.08 795.31,508.07 796.09,511.09 793.46,509.41 790.82,511.09 791.6,508.07 789.19,506.08 792.31,505.89" fill="#1f8a9c"/>
<polygon points="871.4,485.32 872.55,488.23 875.67,488.42 873.26,490.41 874.04,493.44 871.4,491.76 868.77,493.44 869.55,490.41 867.14,488.42 870.26,488.23" fill="#1f8a9c"/>
<polygon points="929.86,454.96 931.01,457.86 934.13,458.06 931.71,460.04 932.5,463.07 929.86,461.39 927.22,463.07 928.01,460.04 925.59,458.06 928.71,457.86" fill="#1f8a9c"/>
<polygon points="1007.8,434.05 1008.95,436.96 1012.07,437.15 1009.66,439.14 1010.44,442.17 1007.8,440.49 1005.17,442.17 1005.95,439.14 1003.54,437.15 1006.66,436.96" fill="#1f8a9c"/>
<polygon points="1066.26,400.3 1067.41,403.2 1070.53,403.4 1068.12,405.38 1068.9,408.41 1066.26,406.73 1063.63,408.41 1064.41,405.38 1062,403.4 1065.12,403.2" fill="#1f8a9c"/>
<polygon points="1144.21,354.82 1145.35,357.73 1148.47,357.92 1146.06,359.91 1146.84,362.93 1144.21,361.25 1141.57,362.93 1142.35,359.91 1139.94,357.92 1143.06,357.73" fill="#1f8a9c"/>
<line x1="1066.26" y1="395.46" x2="1066.26" y2="388.82" stroke="#b01cf0" stroke-width="1.5"/>
<line x1="1061.76" y1="388.82" x2="1070.76" y2="388.82" stroke="#b01cf0" stroke-width="1.5"/>
<line x1="1144.21" y1="329.64" x2="1144.21" y2="305.07" stroke="#b01cf0" stroke-width="1.5"/>
<line x1="1139.71" y1="305.07" x2="1148.71" y2="305.07" stroke="#b01cf0" stroke-width="1.5"/>
<ellipse cx="735" cy="513.11" rx="3.9" ry="3.9" fill="#b01cf0"/>
<ellipse cx="793.46" cy="507.46" rx="3.9" ry="3.9" fill="#b01cf0"/>
<ellipse cx="871.4" cy="489.1" rx="3.9" ry="3.9" fill="#b01cf0"/>
<ellipse cx="929.86" cy="456.62" rx="3.9" ry="3.9" fill="#b01cf0"/>
<ellipse cx="1007.8" cy="426.53" rx="3.9" ry="3.9" fill="#b01cf0"/>
<ellipse cx="1066.26" cy="395.46" rx="3.9" ry="3.9" fill="#b01cf0"/>
<ellipse cx="1144.21" cy="329.64" rx="3.9" ry="3.9" fill="#b01cf0"/>
<line x1="1066.26" y1="387.13" x2="1066.26" y2="376.11" stroke="#ff8080" stroke-width="1.5"/>
<line x1="1061.76" y1="376.11" x2="1070.76" y2="376.11" stroke="#ff8080" stroke-width="1.5"/>
<line x1="1144.21" y1="318.91" x2="1144.21" y2="288.54" stroke="#ff8080" stroke-width="1.5"/>
<line x1="1139.71" y1="288.54" x2="1148.71" y2="288.54" stroke="#ff8080" stroke-width="1.5"/>
<rect x="731.1" y="509.21" width="7.8" height="7.8" fill="#ff8080"/>
<rect x="789.56" y="503.56" width="7.8" height="7.8" fill="#ff8080"/>
<rect x="867.5" y="484.5" width="7.8" height="7.8" fill="#ff8080"/>
<rect x="925.96" y="451.3" width="7.8" height="7.8" fill="#ff8080"/>
<rect x="1003.9" y="426.16" width="7.8" height="7.8" fill="#ff8080"/>
<rect x="1062.36" y="383.23" width="7.8" height="7.8" fill="#ff8080"/>
<rect x="1140.31" y="315.01" width="7.8" height="7.8" fill="#ff8080"/>
<line x1="929.86" y1="453.37" x2="929.86" y2="442.78" stroke="#ff1414" stroke-width="1.5"/>
<line x1="925.36" y1="442.78" x2="934.36" y2="442.78" stroke="#ff1414" stroke-width="1.5"/>
<line x1="1007.8" y1="420.74" x2="1007.8" y2="406.05" stroke="#ff1414" stroke-width="1.5"/>
<line x1="1003.3" y1="406.05" x2="1012.3" y2="406.05" stroke="#ff1414" stroke-width="1.5"/>
<line x1="1066.26" y1="376.96" x2="1066.26" y2="358.31" stroke="#ff1414" stroke-width="1.5"/>
<line x1="1061.76" y1="358.31" x2="1070.76" y2="358.31" stroke="#ff1414" stroke-width="1.5"/>
<line x1="1144.21" y1="311.99" x2="1144.21" y2="283.6" stroke="#ff1414" stroke-width="1.5"/>
<line x1="1139.71" y1="283.6" x2="1148.71" y2="283.6" stroke="#ff1414" stroke-width="1.5"/>
<polygon points="735,508.63 739.29,516.43 730.71,516.43" fill="#ff1414"/>
<polygon points="793.46,502.98 797.75,510.78 789.17,510.78" fill="#ff1414"/>
<polygon points="871.4,482.92 875.69,490.72 867.11,490.72" fill="#ff1414"/>
<polygon points="929.86,448.88 934.15,456.68 925.57,456.68" fill="#ff1414"/>
<polygon points="1007.8,416.26 1012.09,424.06 1003.51,424.06" fill="#ff1414"/>
<polygon points="1066.26,372.47 1070.55,380.27 1061.97,380.27" fill="#ff1414"/>
<polygon points="1144.21,307.5 1148.5,315.3 1139.92,315.3" fill="#ff1414"/>
<line x1="871.4" y1="480.06" x2="871.4" y2="477.1" stroke="#111111" stroke-width="1.5"/>
<line x1="866.9" y1="477.1" x2="875.9" y2="477.1" stroke="#111111" stroke-width="1.5"/>
<line x1="929.86" y1="435.85" x2="929.86" y2="427.24" stroke="#111111" stroke-width="1.5"/>
<line x1="925.36" y1="427.24" x2="934.36" y2="427.24" stroke="#111111" stroke-width="1.5"/>
<line x1="1007.8" y1="390.94" x2="1007.8" y2="378.51" stroke="#111111" stroke-width="1.5"/>
<line x1="1003.3" y1="378.51" x2="1012.3" y2="378.51" stroke="#111111" stroke-width="1.5"/>
<line x1="1066.26" y1="325.41" x2="1066.26" y2="307.33" stroke="#111111" stroke-width="1.5"/>
<line x1="1061.76" y1="307.33" x2="1070.76" y2="307.33" stroke="#111111" stroke-width="1.5"/>
<line x1="1144.21" y1="233.88" x2="1144.21" y2="199" stroke="#111111" stroke-width="1.5"/>
<ellipse cx="735" cy="513.11" rx="3.9" ry="3.9" fill="#111111"/>
<ellipse cx="793.46" cy="507.46" rx="3.9" ry="3.9" fill="#111111"/>
<ellipse cx="871.4" cy="480.06" rx="3.9" ry="3.9" fill="#111111"/>
<ellipse cx="929.86" cy="435.85" rx="3.9" ry="3.9" fill="#111111"/>
<ellipse cx="1007.8" cy="390.94" rx="3.9" ry="3.9" fill="#111111"/>
<ellipse cx="1066.26" cy="325.41" rx="3.9" ry="3.9" fill="#111111"/>
<ellipse cx="1144.21" cy="233.88" rx="3.9" ry="3.9" fill="#111111"/>
<line x1="735" y1="169.9" x2="735" y2="523.65" stroke="#000" stroke-width="1.3"/>
<line x1="728.5" y1="523" x2="1144.86" y2="523" stroke="#000" stroke-width="1.5"/>
<line x1="728.5" y1="523" x2="735" y2="523" stroke="#000" stroke-width="1.3"/>
<text x="725.9" y="530.8" font-size="22.8" font-weight="bold" text-anchor="end" fill="#000" font-family="'Liberation Sans', Arial, sans-serif" textLength="11.65" lengthAdjust="spacingAndGlyphs">0</text>
<line x1="731.8" y1="487.69" x2="735" y2="487.69" stroke="#000" stroke-width="1.3"/>
<line x1="728.5" y1="452.38" x2="735" y2="452.38" stroke="#000" stroke-width="1.3"/>
<text x="725.9" y="460.18" font-size="22.8" font-weight="bold" text-anchor="end" fill="#000" font-family="'Liberation Sans', Arial, sans-serif" textLength="34.95" lengthAdjust="spacingAndGlyphs">500</text>
<line x1="731.8" y1="417.07" x2="735" y2="417.07" stroke="#000" stroke-width="1.3"/>
<line x1="728.5" y1="381.76" x2="735" y2="381.76" stroke="#000" stroke-width="1.3"/>
<text x="725.9" y="389.56" font-size="22.8" font-weight="bold" text-anchor="end" fill="#000" font-family="'Liberation Sans', Arial, sans-serif" textLength="46.6" lengthAdjust="spacingAndGlyphs">1000</text>
<line x1="731.8" y1="346.45" x2="735" y2="346.45" stroke="#000" stroke-width="1.3"/>
<line x1="728.5" y1="311.14" x2="735" y2="311.14" stroke="#000" stroke-width="1.3"/>
<text x="725.9" y="318.94" font-size="22.8" font-weight="bold" text-anchor="end" fill="#000" font-family="'Liberation Sans', Arial, sans-serif" textLength="46.6" lengthAdjust="spacingAndGlyphs">1500</text>
<line x1="731.8" y1="275.83" x2="735" y2="275.83" stroke="#000" stroke-width="1.3"/>
<line x1="728.5" y1="240.52" x2="735" y2="240.52" stroke="#000" stroke-width="1.3"/>
<text x="725.9" y="248.32" font-size="22.8" font-weight="bold" text-anchor="end" fill="#000" font-family="'Liberation Sans', Arial, sans-serif" textLength="46.6" lengthAdjust="spacingAndGlyphs">2000</text>
<line x1="731.8" y1="205.21" x2="735" y2="205.21" stroke="#000" stroke-width="1.3"/>
<line x1="728.5" y1="169.9" x2="735" y2="169.9" stroke="#000" stroke-width="1.3"/>
<text x="725.9" y="177.7" font-size="22.8" font-weight="bold" text-anchor="end" fill="#000" font-family="'Liberation Sans', Arial, sans-serif" textLength="46.6" lengthAdjust="spacingAndGlyphs">2500</text>
<line x1="735" y1="523" x2="735" y2="529.3" stroke="#000" stroke-width="1.3"/>
<text transform="translate(735,551.8) scale(0.94,1)" font-size="23.2" font-weight="bold" text-anchor="middle" font-family="'Liberation Sans', Arial, sans-serif">-3</text>
<line x1="754.49" y1="523" x2="754.49" y2="526.2" stroke="#000" stroke-width="1.3"/>
<line x1="773.97" y1="523" x2="773.97" y2="526.2" stroke="#000" stroke-width="1.3"/>
<line x1="793.46" y1="523" x2="793.46" y2="526.2" stroke="#000" stroke-width="1.3"/>
<line x1="812.94" y1="523" x2="812.94" y2="526.2" stroke="#000" stroke-width="1.3"/>
<line x1="832.43" y1="523" x2="832.43" y2="526.2" stroke="#000" stroke-width="1.3"/>
<line x1="851.92" y1="523" x2="851.92" y2="526.2" stroke="#000" stroke-width="1.3"/>
<line x1="871.4" y1="523" x2="871.4" y2="529.3" stroke="#000" stroke-width="1.3"/>
<text transform="translate(871.4,551.8) scale(0.94,1)" font-size="23.2" font-weight="bold" text-anchor="middle" font-family="'Liberation Sans', Arial, sans-serif">4</text>
<line x1="890.89" y1="523" x2="890.89" y2="526.2" stroke="#000" stroke-width="1.3"/>
<line x1="910.37" y1="523" x2="910.37" y2="526.2" stroke="#000" stroke-width="1.3"/>
<line x1="929.86" y1="523" x2="929.86" y2="526.2" stroke="#000" stroke-width="1.3"/>
<line x1="949.35" y1="523" x2="949.35" y2="526.2" stroke="#000" stroke-width="1.3"/>
<line x1="968.83" y1="523" x2="968.83" y2="526.2" stroke="#000" stroke-width="1.3"/>
<line x1="988.32" y1="523" x2="988.32" y2="526.2" stroke="#000" stroke-width="1.3"/>
<line x1="1007.8" y1="523" x2="1007.8" y2="529.3" stroke="#000" stroke-width="1.3"/>
<text transform="translate(1007.8,551.8) scale(0.94,1)" font-size="23.2" font-weight="bold" text-anchor="middle" font-family="'Liberation Sans', Arial, sans-serif">11</text>
<line x1="1027.29" y1="523" x2="1027.29" y2="526.2" stroke="#000" stroke-width="1.3"/>
<line x1="1046.78" y1="523" x2="1046.78" y2="526.2" stroke="#000" stroke-width="1.3"/>
<line x1="1066.26" y1="523" x2="1066.26" y2="526.2" stroke="#000" stroke-width="1.3"/>
<line x1="1085.75" y1="523" x2="1085.75" y2="526.2" stroke="#000" stroke-width="1.3"/>
<line x1="1105.23" y1="523" x2="1105.23" y2="526.2" stroke="#000" stroke-width="1.3"/>
<line x1="1124.72" y1="523" x2="1124.72" y2="526.2" stroke="#000" stroke-width="1.3"/>
<line x1="1144.21" y1="523" x2="1144.21" y2="529.3" stroke="#000" stroke-width="1.3"/>
<text transform="translate(1144.21,551.8) scale(0.94,1)" font-size="23.2" font-weight="bold" text-anchor="middle" font-family="'Liberation Sans', Arial, sans-serif">18</text>
<text x="938.8" y="580" font-size="21.5" font-weight="bold" text-anchor="middle" fill="#000" font-family="'Liberation Sans', Arial, sans-serif" textLength="337.4" lengthAdjust="spacingAndGlyphs">Days after the start of treatment</text>
<text transform="translate(652,342) rotate(-90)" font-size="20.5" font-weight="bold" text-anchor="middle" font-family="'Liberation Sans', Arial, sans-serif" textLength="183" lengthAdjust="spacingAndGlyphs">Tumor Size (mm<tspan dy="-9.5" font-size="14">3</tspan><tspan dy="9.5">)</tspan></text>
<text x="1162.3" y="305.7" font-size="9" font-weight="bold" text-anchor="start" fill="#e8141e" font-family="'Liberation Sans', Arial, sans-serif" textLength="59" lengthAdjust="spacingAndGlyphs">TGI%=21.60%</text>
<text x="1162.3" y="319.5" font-size="9" font-weight="bold" text-anchor="start" fill="#c8781e" font-family="'Liberation Sans', Arial, sans-serif" textLength="59" lengthAdjust="spacingAndGlyphs">TGI%=26.26%</text>
<text x="1162.3" y="334" font-size="9" font-weight="bold" text-anchor="start" fill="#8c1eb4" font-family="'Liberation Sans', Arial, sans-serif" textLength="59" lengthAdjust="spacingAndGlyphs">TGI%=34.77%</text>
<text x="1162.3" y="362.2" font-size="9" font-weight="bold" text-anchor="start" fill="#1e6e7d" font-family="'Liberation Sans', Arial, sans-serif" textLength="59" lengthAdjust="spacingAndGlyphs">TGI%=51.61%</text>
<text x="1162.3" y="436.3" font-size="9" font-weight="bold" text-anchor="start" fill="#2828dc" font-family="'Liberation Sans', Arial, sans-serif" textLength="59" lengthAdjust="spacingAndGlyphs">TGI%=76.69%</text>
<text x="1162.3" y="475.6" font-size="9" font-weight="bold" text-anchor="start" fill="#1ec81e" font-family="'Liberation Sans', Arial, sans-serif" textLength="59" lengthAdjust="spacingAndGlyphs">TGI%=89.98%</text>
<line x1="754.7" y1="109.8" x2="780.2" y2="109.8" stroke="#111111" stroke-width="1.6"/>
<ellipse cx="767.7" cy="109.8" rx="4" ry="4" fill="#111111"/>
<text x="793.2" y="114.3" font-size="13" font-weight="normal" text-anchor="start" fill="#111" font-family="'Liberation Sans', Arial, sans-serif" textLength="128.6" lengthAdjust="spacingAndGlyphs" stroke="#111" stroke-width="0.5">PBS, IV, QWx4W, n=8</text>
<line x1="754.7" y1="127.2" x2="780.2" y2="127.2" stroke="#ff1414" stroke-width="1.6"/>
<polygon points="767.7,122.6 772.1,130.6 763.3,130.6" fill="#ff1414"/>
<text x="793.2" y="130.9" font-size="13" font-weight="normal" text-anchor="start" fill="#111" font-family="'Liberation Sans', Arial, sans-serif" textLength="204.6" lengthAdjust="spacingAndGlyphs" stroke="#111" stroke-width="0.5">IMM0306, 0.5mg/kg, IV, QWx4, n=8</text>
<line x1="754.7" y1="143" x2="780.2" y2="143" stroke="#1a1aff" stroke-width="1.6"/>
<polygon points="767.7,138.6 771.3,143 767.7,147.4 764.1,143" fill="#1a1aff"/>
<text x="793.2" y="146.6" font-size="13" font-weight="normal" text-anchor="start" fill="#111" font-family="'Liberation Sans', Arial, sans-serif" textLength="204.6" lengthAdjust="spacingAndGlyphs" stroke="#111" stroke-width="0.5">IMM0306, 1.5mg/kg, IV, QWx4, n=8</text>
<line x1="754.7" y1="158.3" x2="780.2" y2="158.3" stroke="#1ec81e" stroke-width="1.6"/>
<polygon points="767.7,162.9 772.1,154.9 763.3,154.9" fill="#1ec81e"/>
<text x="793.2" y="162" font-size="13" font-weight="normal" text-anchor="start" fill="#111" font-family="'Liberation Sans', Arial, sans-serif" textLength="193.8" lengthAdjust="spacingAndGlyphs" stroke="#111" stroke-width="0.5">IMM0306, 5mg/kg, IV, QWx4, n=8</text>
<line x1="754.7" y1="174" x2="780.2" y2="174" stroke="#ff8080" stroke-width="1.6"/>
<rect x="763.7" y="170" width="8" height="8" fill="#ff8080"/>
<text x="793.2" y="177.2" font-size="13" font-weight="normal" text-anchor="start" fill="#111" font-family="'Liberation Sans', Arial, sans-serif" textLength="202.2" lengthAdjust="spacingAndGlyphs" stroke="#111" stroke-width="0.5">Rituximab, 5mg/kg, IV, QWx4, n=8</text>
<line x1="754.7" y1="188.8" x2="780.2" y2="188.8" stroke="#b01cf0" stroke-width="1.6"/>
<ellipse cx="767.7" cy="188.8" rx="4" ry="4" fill="#b01cf0"/>
<text x="793.2" y="192.1" font-size="13" font-weight="normal" text-anchor="start" fill="#111" font-family="'Liberation Sans', Arial, sans-serif" textLength="197.4" lengthAdjust="spacingAndGlyphs" stroke="#111" stroke-width="0.5">IMM01, 0.25mg/kg, IV, QWx4, n=8</text>
<line x1="754.7" y1="204.1" x2="780.2" y2="204.1" stroke="#1f8a9c" stroke-width="1.6"/>
<polygon points="767.7,199.5 768.88,202.48 772.07,202.68 769.6,204.72 770.4,207.82 767.7,206.1 765,207.82 765.8,204.72 763.33,202.68 766.52,202.48" fill="#1f8a9c"/>
<text x="793.2" y="207.7" font-size="13" font-weight="normal" text-anchor="start" fill="#111" font-family="'Liberation Sans', Arial, sans-serif" textLength="396.8" lengthAdjust="spacingAndGlyphs" stroke="#111" stroke-width="0.5">IMM01+Rituximab, 0.25mg/kg+1.25mg/kg,IV+IV, QWx4+QWx4, n=8</text>
<line x1="754.7" y1="226.5" x2="780.2" y2="226.5" stroke="#a81414" stroke-width="1.6"/>
<ellipse cx="767.7" cy="226.5" rx="4" ry="4" fill="#a81414" stroke="#5a0000" stroke-width="1"/>
<text x="793.2" y="223" font-size="13" font-weight="normal" text-anchor="start" fill="#111" font-family="'Liberation Sans', Arial, sans-serif" textLength="337" lengthAdjust="spacingAndGlyphs" stroke="#111" stroke-width="0.5">IMM0306+Clodronate Liposomes,&#160; 5mg/kg+0.2 ml, IV+IV,</text>
<text x="793.2" y="237.2" font-size="13" font-weight="normal" text-anchor="start" fill="#111" font-family="'Liberation Sans', Arial, sans-serif" textLength="225" lengthAdjust="spacingAndGlyphs" stroke="#111" stroke-width="0.5">QWx4+ Day-3, Day1, Day4, Day7, n=8</text>
<line x1="1437.8" y1="165.8" x2="1437.8" y2="379.6" stroke="#000" stroke-width="2"/>
<line x1="1431" y1="378.6" x2="1856.6" y2="378.6" stroke="#000" stroke-width="2.6"/>
<line x1="1430.7" y1="378.6" x2="1437.8" y2="378.6" stroke="#000" stroke-width="2"/>
<text x="1425.2" y="384.4" font-size="16.5" font-weight="bold" text-anchor="end" fill="#000" font-family="'Liberation Sans', Arial, sans-serif" textLength="10.7" lengthAdjust="spacingAndGlyphs">0</text>
<line x1="1430.7" y1="352" x2="1437.8" y2="352" stroke="#000" stroke-width="2"/>
<text x="1425.2" y="357.8" font-size="16.5" font-weight="bold" text-anchor="end" fill="#000" font-family="'Liberation Sans', Arial, sans-serif" textLength="32.1" lengthAdjust="spacingAndGlyphs">100</text>
<line x1="1430.7" y1="325.4" x2="1437.8" y2="325.4" stroke="#000" stroke-width="2"/>
<text x="1425.2" y="331.2" font-size="16.5" font-weight="bold" text-anchor="end" fill="#000" font-family="'Liberation Sans', Arial, sans-serif" textLength="32.1" lengthAdjust="spacingAndGlyphs">200</text>
<line x1="1430.7" y1="298.8" x2="1437.8" y2="298.8" stroke="#000" stroke-width="2"/>
<text x="1425.2" y="304.6" font-size="16.5" font-weight="bold" text-anchor="end" fill="#000" font-family="'Liberation Sans', Arial, sans-serif" textLength="32.1" lengthAdjust="spacingAndGlyphs">300</text>
<line x1="1430.7" y1="272.2" x2="1437.8" y2="272.2" stroke="#000" stroke-width="2"/>
<text x="1425.2" y="278" font-size="16.5" font-weight="bold" text-anchor="end" fill="#000" font-family="'Liberation Sans', Arial, sans-serif" textLength="32.1" lengthAdjust="spacingAndGlyphs">400</text>
<line x1="1430.7" y1="245.6" x2="1437.8" y2="245.6" stroke="#000" stroke-width="2"/>
<text x="1425.2" y="251.4" font-size="16.5" font-weight="bold" text-anchor="end" fill="#000" font-family="'Liberation Sans', Arial, sans-serif" textLength="32.1" lengthAdjust="spacingAndGlyphs">500</text>
<line x1="1430.7" y1="219" x2="1437.8" y2="219" stroke="#000" stroke-width="2"/>
<text x="1425.2" y="224.8" font-size="16.5" font-weight="bold" text-anchor="end" fill="#000" font-family="'Liberation Sans', Arial, sans-serif" textLength="32.1" lengthAdjust="spacingAndGlyphs">600</text>
<line x1="1430.7" y1="192.4" x2="1437.8" y2="192.4" stroke="#000" stroke-width="2"/>
<text x="1425.2" y="198.2" font-size="16.5" font-weight="bold" text-anchor="end" fill="#000" font-family="'Liberation Sans', Arial, sans-serif" textLength="32.1" lengthAdjust="spacingAndGlyphs">700</text>
<line x1="1430.7" y1="165.8" x2="1437.8" y2="165.8" stroke="#000" stroke-width="2"/>
<text x="1425.2" y="171.6" font-size="16.5" font-weight="bold" text-anchor="end" fill="#000" font-family="'Liberation Sans', Arial, sans-serif" textLength="32.1" lengthAdjust="spacingAndGlyphs">800</text>
<line x1="1490.6" y1="378.6" x2="1490.6" y2="385.1" stroke="#000" stroke-width="2"/>
<line x1="1594.4" y1="378.6" x2="1594.4" y2="385.1" stroke="#000" stroke-width="2"/>
<line x1="1699" y1="378.6" x2="1699" y2="385.1" stroke="#000" stroke-width="2"/>
<line x1="1803" y1="378.6" x2="1803" y2="385.1" stroke="#000" stroke-width="2"/>
<polyline points="1490.6,378.6 1594.4,366.63 1699,370.89 1803,363.44" fill="none" stroke="#a020f0" stroke-width="2.2" stroke-linejoin="round"/>
<polyline points="1490.6,378.6 1594.4,366.63 1699,371.95 1803,373.81" fill="none" stroke="#111111" stroke-width="2.2" stroke-linejoin="round"/>
<polyline points="1490.6,378.6 1594.4,371.95 1699,378.6 1803,378.6" fill="none" stroke="#ff8c1a" stroke-width="2.2" stroke-linejoin="round"/>
<polyline points="1490.6,378.6 1594.4,370.89 1699,368.23 1803,356.26" fill="none" stroke="#ff1a1a" stroke-width="2.2" stroke-linejoin="round"/>
<polyline points="1490.6,378.6 1594.4,363.97 1699,359.18 1803,302.52" fill="none" stroke="#1ec81e" stroke-width="2.2" stroke-linejoin="round"/>
<polyline points="1490.6,378.6 1594.4,364.5 1699,348.01 1803,208.36" fill="none" stroke="#1a1aff" stroke-width="2.2" stroke-linejoin="round"/>
<polygon points="1490.6,384.35 1497.2,374.35 1484,374.35" fill="#a020f0"/>
<polygon points="1594.4,372.38 1601,362.38 1587.8,362.38" fill="#a020f0"/>
<polygon points="1699,376.64 1705.6,366.64 1692.4,366.64" fill="#a020f0"/>
<polygon points="1803,369.19 1809.6,359.19 1796.4,359.19" fill="#a020f0"/>
<rect x="1484" y="373.1" width="13.2" height="11" fill="#111111"/>
<rect x="1587.8" y="361.13" width="13.2" height="11" fill="#111111"/>
<rect x="1692.4" y="366.45" width="13.2" height="11" fill="#111111"/>
<rect x="1796.4" y="368.31" width="13.2" height="11" fill="#111111"/>
<ellipse cx="1490.6" cy="378.6" rx="8.1" ry="6.75" fill="#ff8c1a"/>
<ellipse cx="1594.4" cy="371.95" rx="8.1" ry="6.75" fill="#ff8c1a"/>
<ellipse cx="1699" cy="378.6" rx="8.1" ry="6.75" fill="#ff8c1a"/>
<ellipse cx="1803" cy="378.6" rx="8.1" ry="6.75" fill="#ff8c1a"/>
<rect x="1484.6" y="373.6" width="12" height="10" fill="#ff1a1a"/>
<rect x="1588.4" y="365.89" width="12" height="10" fill="#ff1a1a"/>
<rect x="1693" y="363.23" width="12" height="10" fill="#ff1a1a"/>
<rect x="1797" y="351.26" width="12" height="10" fill="#ff1a1a"/>
<line x1="1803" y1="302.52" x2="1803" y2="297.74" stroke="#1ec81e" stroke-width="2.2"/>
<line x1="1798" y1="297.74" x2="1808" y2="297.74" stroke="#1ec81e" stroke-width="2.2"/>
<polygon points="1490.6,372.85 1497.2,382.85 1484,382.85" fill="#1ec81e"/>
<polygon points="1594.4,358.22 1601,368.22 1587.8,368.22" fill="#1ec81e"/>
<polygon points="1699,353.43 1705.6,363.43 1692.4,363.43" fill="#1ec81e"/>
<polygon points="1803,296.77 1809.6,306.77 1796.4,306.77" fill="#1ec81e"/>
<line x1="1699" y1="348.01" x2="1699" y2="342.69" stroke="#1a1aff" stroke-width="2.2"/>
<line x1="1694" y1="342.69" x2="1704" y2="342.69" stroke="#1a1aff" stroke-width="2.2"/>
<line x1="1803" y1="208.36" x2="1803" y2="196.39" stroke="#1a1aff" stroke-width="2.2"/>
<line x1="1798" y1="196.39" x2="1808" y2="196.39" stroke="#1a1aff" stroke-width="2.2"/>
<ellipse cx="1490.6" cy="378.6" rx="6" ry="5" fill="#1a1aff"/>
<ellipse cx="1594.4" cy="364.5" rx="6" ry="5" fill="#1a1aff"/>
<ellipse cx="1699" cy="348.01" rx="6" ry="5" fill="#1a1aff"/>
<ellipse cx="1803" cy="208.36" rx="6" ry="5" fill="#1a1aff"/>
<text x="1490.6" y="401.5" font-size="16.5" font-weight="bold" text-anchor="middle" fill="#000" font-family="'Liberation Sans', Arial, sans-serif" textLength="10" lengthAdjust="spacingAndGlyphs">0</text>
<text x="1594.4" y="401.5" font-size="16.5" font-weight="bold" text-anchor="middle" fill="#000" font-family="'Liberation Sans', Arial, sans-serif" textLength="10" lengthAdjust="spacingAndGlyphs">7</text>
<text x="1699" y="401.5" font-size="16.5" font-weight="bold" text-anchor="middle" fill="#000" font-family="'Liberation Sans', Arial, sans-serif" textLength="20" lengthAdjust="spacingAndGlyphs">12</text>
<text x="1803" y="401.5" font-size="16.5" font-weight="bold" text-anchor="middle" fill="#000" font-family="'Liberation Sans', Arial, sans-serif" textLength="20" lengthAdjust="spacingAndGlyphs">17</text>
<text x="1646" y="428" font-size="18.7" font-weight="bold" text-anchor="middle" fill="#000" font-family="'Liberation Sans', Arial, sans-serif" textLength="216" lengthAdjust="spacingAndGlyphs">Days after Grouping</text>
<text x="1646" y="138" font-size="20.7" font-weight="bold" text-anchor="middle" fill="#000" font-family="'Liberation Sans', Arial, sans-serif" textLength="383.6" lengthAdjust="spacingAndGlyphs">Bioluminescence imaging(p/s)</text>
<text transform="translate(1375.5,270.5) rotate(-90)" font-size="20" font-weight="bold" text-anchor="middle" font-family="'Liberation Sans', Arial, sans-serif" textLength="317" lengthAdjust="spacingAndGlyphs">Bioluminescence imaging(p/s) (*10^6)</text>
<line x1="1429.9" y1="472.6" x2="1458.7" y2="472.6" stroke="#1a1aff" stroke-width="2"/>
<ellipse cx="1444.5" cy="472.6" rx="5" ry="4" fill="#1a1aff"/>
<text x="1474.9" y="477" font-size="13.7" font-weight="normal" text-anchor="start" fill="#1a1a1a" font-family="'Liberation Sans', Arial, sans-serif" textLength="166.8" lengthAdjust="spacingAndGlyphs" stroke="#1a1a1a" stroke-width="0.3">G1 DPBS i.v. QW*4W</text>
<line x1="1429.9" y1="497" x2="1458.7" y2="497" stroke="#ff1a1a" stroke-width="2"/>
<rect x="1438.5" y="492" width="12" height="10" fill="#ff1a1a"/>
<text x="1474.9" y="501.8" font-size="13.7" font-weight="normal" text-anchor="start" fill="#1a1a1a" font-family="'Liberation Sans', Arial, sans-serif" textLength="249.1" lengthAdjust="spacingAndGlyphs" stroke="#1a1a1a" stroke-width="0.3">G2 IMM0306 1mg/kg i.v. QW*4W</text>
<line x1="1429.9" y1="521.3" x2="1458.7" y2="521.3" stroke="#1ec81e" stroke-width="2"/>
<polygon points="1444.5,516.12 1451.1,525.12 1437.9,525.12" fill="#1ec81e"/>
<text x="1474.9" y="525.7" font-size="13.7" font-weight="normal" text-anchor="start" fill="#1a1a1a" font-family="'Liberation Sans', Arial, sans-serif" textLength="268.7" lengthAdjust="spacingAndGlyphs" stroke="#1a1a1a" stroke-width="0.3">G3 Rituximab 0.8mg/kg i.v. QW*4W</text>
<line x1="1429.9" y1="547" x2="1458.7" y2="547" stroke="#a020f0" stroke-width="2"/>
<polygon points="1444.5,552.17 1451.1,543.17 1437.9,543.17" fill="#a020f0"/>
<text x="1474.9" y="551.3" font-size="13.7" font-weight="normal" text-anchor="start" fill="#1a1a1a" font-family="'Liberation Sans', Arial, sans-serif" textLength="327.3" lengthAdjust="spacingAndGlyphs" stroke="#1a1a1a" stroke-width="0.3">G4 Lenalidomide 3mg/kg p.o. QD D0,D5-27</text>
<line x1="1429.9" y1="568" x2="1458.7" y2="568" stroke="#ff8c1a" stroke-width="2"/>
<ellipse cx="1444.5" cy="568" rx="7" ry="5.5" fill="#ff8c1a"/>
<text x="1474.9" y="572.6" font-size="13.7" font-weight="normal" text-anchor="start" fill="#1a1a1a" font-family="'Liberation Sans', Arial, sans-serif" textLength="524.5" lengthAdjust="spacingAndGlyphs" stroke="#1a1a1a" stroke-width="0.3">G5 IMM0306 1mg/kg i.v. QW*4W Lenalidomide 3mg/kg p.o. D0,D5-27</text>
<line x1="1429.9" y1="593.5" x2="1458.7" y2="593.5" stroke="#111111" stroke-width="2"/>
<rect x="1438.5" y="588.5" width="12" height="10" fill="#111111"/>
<text x="1474.9" y="598.4" font-size="13.7" font-weight="normal" text-anchor="start" fill="#1a1a1a" font-family="'Liberation Sans', Arial, sans-serif" textLength="543.5" lengthAdjust="spacingAndGlyphs" stroke="#1a1a1a" stroke-width="0.3">G6 Rituximab 0.8mg/kg i.v. QW*4W Lenalidomide 3mg/kg p.o. D0,D5-27</text>
</svg>
</body></html>
